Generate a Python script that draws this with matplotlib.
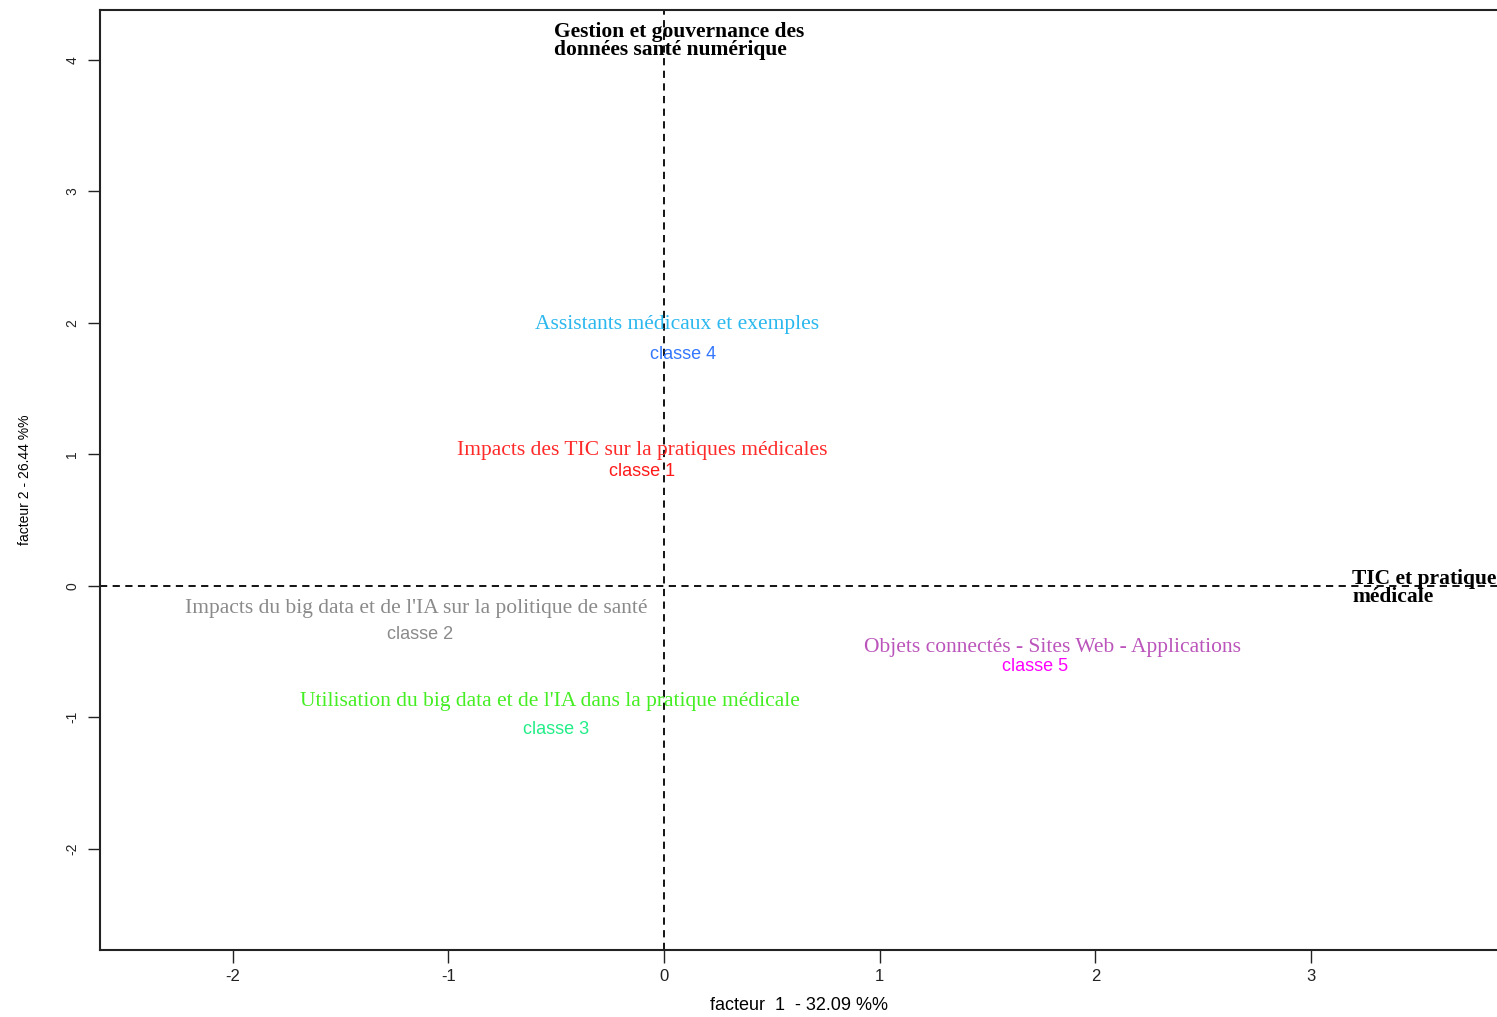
import matplotlib.pyplot as plt

plt.rcParams["axes.unicode_minus"] = False

# class labels and positions on the factor plane
theme_labels = [
    "Impacts des TIC sur la pratiques médicales",
    "Impacts du big data et de l'IA sur la politique de santé",
    "Utilisation du big data et de l'IA dans la pratique médicale",
    "Assistants médicaux et exemples",
    "Objets connectés - Sites Web - Applications",
]
theme_x = [-0.10, -1.15, -0.53, 0.06, 1.80]
theme_y = [1.03, -0.175, -0.88, 1.99, -0.47]
theme_colors = ["#ff2a2a", "#8a8a8a", "#44ee22", "#2bb8ee", "#bb55bb"]

class_labels = ["classe 1", "classe 2", "classe 3", "classe 4", "classe 5"]
class_x = [-0.10, -1.13, -0.50, 0.09, 1.72]
class_y = [0.87, -0.37, -1.09, 1.76, -0.61]
class_colors = ["#ff1a1a", "#8a8a8a", "#22ee88", "#3377ff", "#ff00ff"]

axis_titles = ["Gestion et gouvernance des\ndonnées santé numérique",
               "TIC et pratique\nmédicale"]
axis_title_x = [-0.51, 3.19]
axis_title_y = [4.145, -0.015]

x_ticks = [-2, -1, 0, 1, 2, 3]
y_ticks = [-2, -1, 0, 1, 2, 3, 4]

fig = plt.figure(figsize=(14.97, 10.17), dpi=100)
ax = fig.add_axes([100 / 1497, 67 / 1017, 1 - 100 / 1497, 940 / 1017])
ax.set_xlim(-2.615, 3.862)
ax.set_ylim(-2.77, 4.38)

ax.axvline(0, color="black", linestyle=(0, (4, 3)), linewidth=1.3)
ax.axhline(0, color="black", linestyle=(0, (4, 3)), linewidth=1.3)

for lab, x, y, c in zip(theme_labels, theme_x, theme_y, theme_colors):
    ax.text(x, y, lab, color=c, ha="center", va="center",
            family="Liberation Serif", fontsize=15.5)

for lab, x, y, c in zip(class_labels, class_x, class_y, class_colors):
    ax.text(x, y, lab, color=c, ha="center", va="center",
            family="Liberation Sans", fontsize=13)

for lab, x, y in zip(axis_titles, axis_title_x, axis_title_y):
    ax.text(x, y, lab, color="black", ha="left", va="center",
            family="Liberation Serif", fontweight="bold", fontsize=15.5,
            linespacing=0.85)

ax.set_xticks(x_ticks)
ax.set_xticklabels([str(v) for v in x_ticks])
ax.set_yticks(y_ticks)
ax.set_yticklabels([str(v) for v in y_ticks], rotation=90, va="center")
ax.tick_params(length=9, width=1, colors="#222222", pad=5)
ax.tick_params(axis="x", labelsize=12)
ax.tick_params(axis="y", labelsize=10, pad=6)
for lbl in ax.get_xticklabels() + ax.get_yticklabels():
    lbl.set_family("Liberation Sans")

ax.spines["right"].set_visible(False)
for s in ["left", "bottom", "top"]:
    ax.spines[s].set_linewidth(1.5)
    ax.spines[s].set_color("#222222")

ax.set_xlabel("facteur  1  - 32.09 %%", family="Liberation Sans",
              fontsize=13, labelpad=9)
ax.set_ylabel("facteur 2 - 26.44 %%", family="Liberation Sans",
              fontsize=10, labelpad=24)

fig.savefig("out.png", dpi=100)
